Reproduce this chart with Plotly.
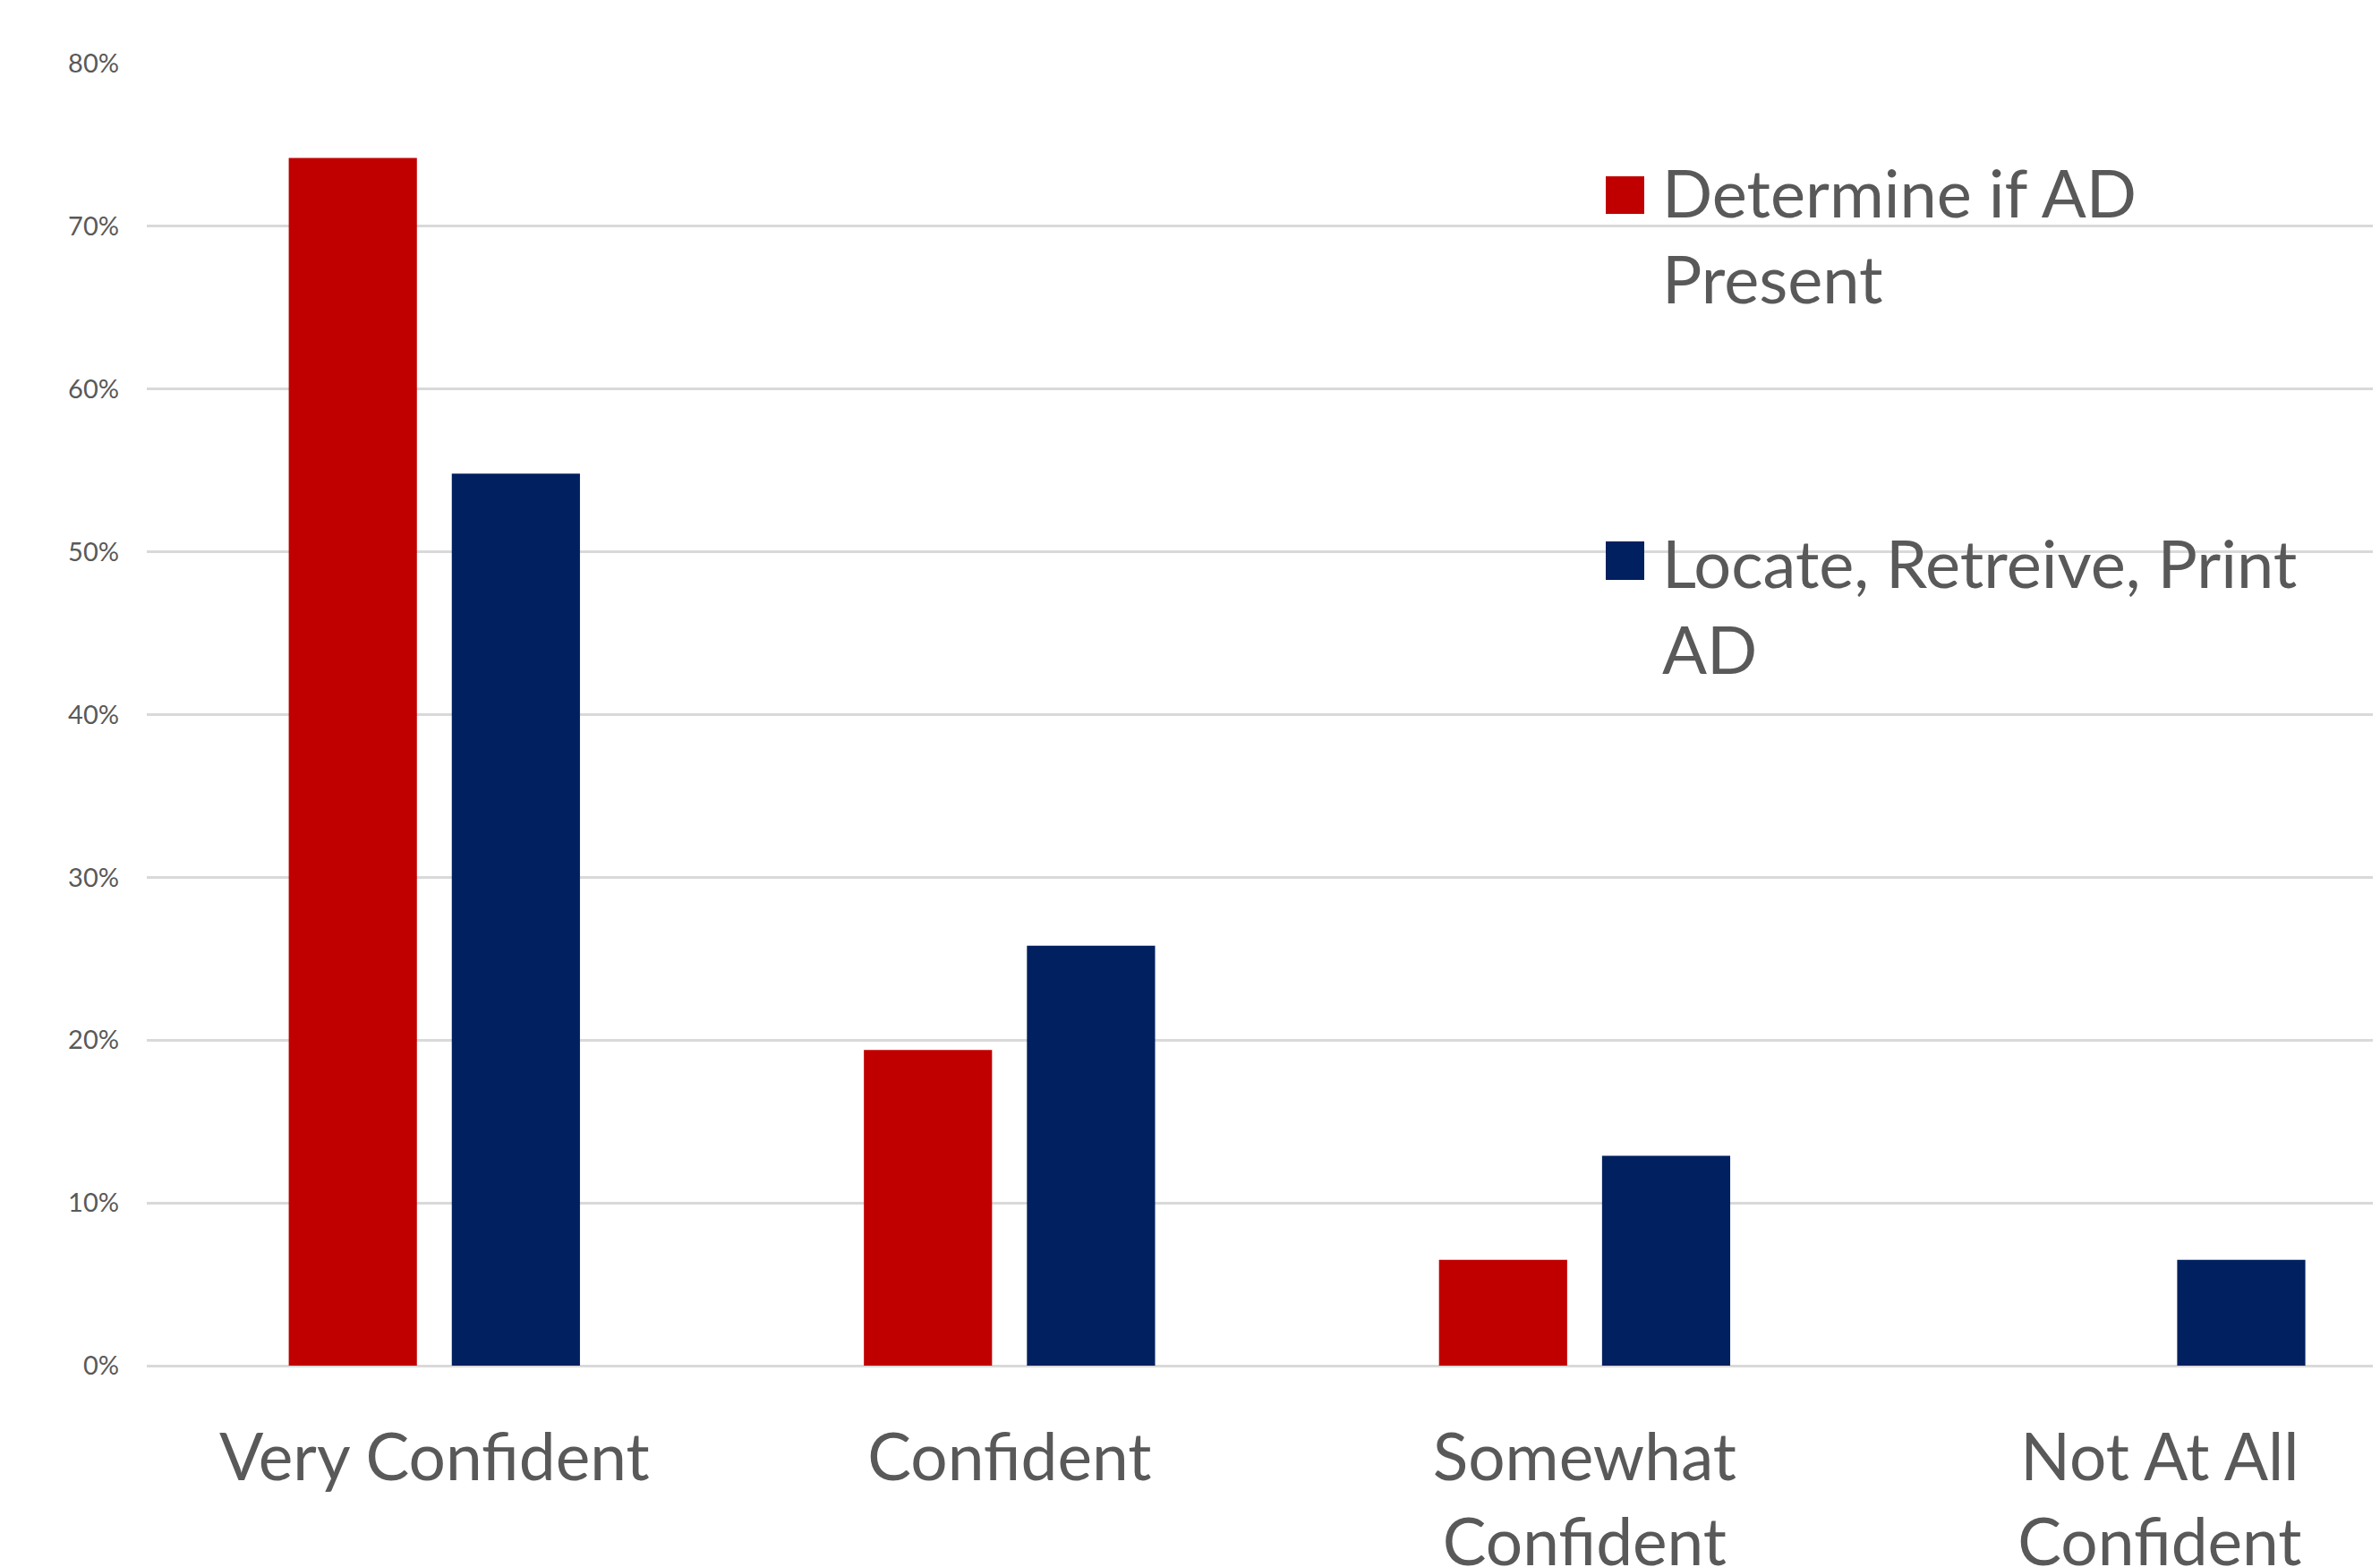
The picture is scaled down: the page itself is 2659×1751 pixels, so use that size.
import plotly.graph_objects as go

categories = ["Very Confident", "Confident", "Somewhat<br>Confident", "Not At All<br>Confident"]
series_names = ["Determine if AD<br>Present", "Locate, Retreive, Print<br>AD"]
determine_vals = [0.742, 0.194, 0.065, 0.0]
locate_vals = [0.548, 0.258, 0.129, 0.065]
colors = ["#C00000", "#002060"]
y_ticks = [0, 0.1, 0.2, 0.3, 0.4, 0.5, 0.6, 0.7, 0.8]

OFF = 8  # page body margin
W, H = 2659 - OFF, 1751 - OFF
L, R, T, B = 164 - OFF, 0, 71 - OFF, 225
pw, ph = W - L - R, H - T - B

FONT = "Lato"
GREY = "#595959"

fig = go.Figure()
for name, vals, col in zip(series_names, [determine_vals, locate_vals], colors):
    fig.add_trace(go.Bar(x=categories, y=vals, name=name, marker=dict(color=col, line=dict(width=0))))

fig.update_layout(
    width=W, height=H,
    margin=dict(l=L, r=R, t=T, b=B, autoexpand=False),
    paper_bgcolor="white", plot_bgcolor="white",
    barmode="group", bargap=0.433, bargroupgap=0.214,
    showlegend=False,
    font=dict(family=FONT, color=GREY),
)
fig.update_xaxes(
    type="category", range=[-0.5, 3.383], automargin=False,
    showgrid=False, showline=False, zeroline=False,
    tickfont=dict(family=FONT, size=73, color=GREY),
    ticks="", ticklabelstandoff=54,
)
fig.update_yaxes(
    range=[0, 0.8], tickvals=y_ticks, tickformat=".0%", automargin=False,
    showgrid=True, gridcolor="#D9D9D9", gridwidth=3,
    zeroline=True, zerolinecolor="#D9D9D9", zerolinewidth=3,
    showline=False, ticks="", ticklabelstandoff=30,
    tickfont=dict(family=FONT, size=29, color=GREY),
)

# legend drawn manually (large swatches as in reference); targets in screen pixels
def px_x(x):
    return (x - OFF - L) / pw
def px_y(y):
    return (H - B - (y - OFF)) / ph

legend_items = [(series_names[0], colors[0], 197, 239, 263), (series_names[1], colors[1], 605, 648, 676)]
for name, col, sy0, sy1, tc in legend_items:
    fig.add_shape(type="rect", xref="paper", yref="paper",
                  x0=px_x(1794), x1=px_x(1837), y0=px_y(sy1), y1=px_y(sy0),
                  fillcolor=col, line=dict(width=0))
    fig.add_annotation(xref="paper", yref="paper", x=px_x(1855), y=px_y(tc),
                       xanchor="left", yanchor="middle", align="left",
                       text=name, showarrow=False,
                       font=dict(family=FONT, size=74, color=GREY))

fig.write_html("out.html")
